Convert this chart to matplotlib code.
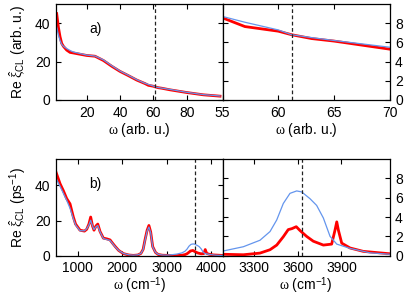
import matplotlib
matplotlib.use("Agg")
import matplotlib.pyplot as plt

plt.rcParams['font.family'] = ['Liberation Sans', 'DejaVu Sans']
plt.rcParams['font.size'] = 10
plt.rcParams['mathtext.fontset'] = 'custom'
plt.rcParams['mathtext.rm'] = 'Liberation Sans'
plt.rcParams['mathtext.it'] = 'Liberation Serif:italic'
plt.rcParams['mathtext.sf'] = 'Liberation Serif'  # used for upright greek letters
plt.rcParams['mathtext.bf'] = 'Liberation Sans:bold'

# panel a) -- arbitrary units
omega_a = [2, 3, 4, 5, 6, 8, 10, 12, 15, 20, 25, 30, 35, 40, 45, 50,
           55, 57, 60, 61.2, 63, 65, 70, 80, 90, 100]
red_a = [45, 38, 33, 29.5, 28, 26, 24.8, 24.5, 24, 23.2, 22.8, 20.6, 17.6, 14.9, 12.7, 10.4,
         8.55, 7.65, 7.17, 6.8, 6.4, 6.14, 5.3, 3.9, 2.7, 2.0]
blue_a = [38, 34, 31, 29, 28, 26.8, 25.8, 25, 24.4, 23.4, 22.9, 20.9, 17.9, 15.1, 12.9, 10.6,
          8.7, 8.1, 7.3, 6.8, 6.5, 6.2, 5.5, 4.0, 2.8, 2.1]
cut_a = 61.2

# panel b) -- cm^-1
omega_b_red = [510, 600, 675, 750, 825, 900, 950, 1050, 1150, 1200, 1250, 1290, 1330, 1365,
               1410, 1450, 1500, 1575, 1650, 1725, 1780, 1840, 1920, 2025, 2150, 2250, 2350,
               2420, 2470, 2512, 2560, 2600, 2640, 2685, 2750, 2810, 2900, 3000,
               3089, 3227, 3341, 3410, 3456, 3501, 3535, 3560, 3590, 3616, 3661, 3707, 3776,
               3833, 3856, 3868, 3879, 3902, 3959, 4050, 4233, 4260]
red_b = [47.5, 41, 37, 32.5, 29.5, 22, 18, 14.5, 14, 15, 18, 22, 17, 14.5,
         17, 18, 13.8, 10, 9.6, 9, 7.2, 5.3, 3, 1.2, 0.4, 0.2, 0.4,
         1.3, 3.6, 9, 14.5, 17.2, 13.5, 5.2, 1.8, 0.7, 0.3, 0.2,
         0.15, 0.1, 0.27, 0.62, 1.1, 1.96, 2.7, 2.8, 3.0, 2.6, 2.0, 1.5, 1.1,
         1.2, 2.65, 3.5, 2.65, 1.3, 0.8, 0.45, 0.2, 0.2]
omega_b_blue = [510, 600, 675, 750, 825, 900, 950, 1050, 1150, 1200, 1250, 1290, 1330, 1365,
                1410, 1450, 1500, 1575, 1650, 1725, 1780, 1840, 1920, 2025, 2150, 2250, 2350,
                2420, 2470, 2512, 2560, 2600, 2640, 2685, 2750, 2810, 2900, 3000,
                3089, 3227, 3341, 3410, 3456, 3501, 3547, 3593, 3627, 3684, 3730, 3776,
                3822, 3868, 3959, 4096, 4233, 4260]
blue_b = [44, 39.5, 35.5, 31.5, 27, 21, 17.5, 14.2, 14.2, 15.3, 17.5, 20.2, 17, 14.9,
          16.5, 17.2, 13.6, 9.8, 9.2, 8.7, 7, 5.1, 3, 1.3, 0.5, 0.3, 0.5,
          1.3, 3.5, 8.6, 14, 16.3, 13, 5, 1.8, 0.8, 0.4, 0.3,
          0.49, 0.93, 1.6, 2.5, 3.7, 5.4, 6.45, 6.7, 6.6, 5.9, 5.2, 3.9,
          2.0, 1.2, 0.76, 0.3, 0.15, 0.15]
cut_b = 3630

RED = '#ff0000'
BLUE = '#6495ed'

fig = plt.figure(figsize=(4.11, 2.97), dpi=100)
ax1 = fig.add_axes([0.1363, 0.6633, 0.4055, 0.3232])
ax2 = fig.add_axes([0.5418, 0.6633, 0.4059, 0.3232])
ax3 = fig.add_axes([0.1363, 0.139, 0.4055, 0.3256])
ax4 = fig.add_axes([0.5418, 0.139, 0.4059, 0.3256])


def style(ax, right=False):
    ax.tick_params(direction='in', top=True, right=True, length=3.5, width=0.8,
                   labelsize=10, pad=4)
    if right:
        ax.tick_params(labelleft=False, labelright=True)
    for s in ax.spines.values():
        s.set_linewidth(0.9)


for ax in (ax1, ax2):
    ax.plot(omega_a, red_a, color=RED, lw=2.0)
    ax.plot(omega_a, blue_a, color=BLUE, lw=0.9)
    ax.axvline(cut_a, color='#222222', lw=0.9, ls=(0, (3, 2)))
    ax.set_xlabel(r'$\mathsf{\omega}$ (arb. u.)', labelpad=1)

ax1.set_xlim(1.6, 101.6)
ax1.set_ylim(0, 50)
ax1.set_xticks([20, 40, 60, 80])
ax1.set_yticks([0, 20, 40])
ax1.set_ylabel(r'Re $\hat{\mathsf{\xi}}_{\rm CL}$ (arb. u.)', labelpad=5)
ax1.text(0.2, 0.70, 'a)', transform=ax1.transAxes, fontsize=10)
style(ax1)

ax2.set_xlim(55, 70)
ax2.set_ylim(0, 10)
ax2.set_xticks([55, 60, 65, 70])
ax2.set_yticks([0, 2, 4, 6, 8])
style(ax2, right=True)

for ax in (ax3, ax4):
    ax.plot(omega_b_red, red_b, color=RED, lw=2.0)
    ax.plot(omega_b_blue, blue_b, color=BLUE, lw=0.9)
    ax.axvline(cut_b, color='#222222', lw=0.9, ls=(0, (3, 2)))
    ax.set_xlabel(r'$\mathsf{\omega}$ (cm$^{-1}$)', labelpad=0)

ax3.set_xlim(510, 4260)
ax3.set_ylim(0, 55)
ax3.set_xticks([1000, 2000, 3000, 4000])
ax3.set_yticks([0, 20, 40])
ax3.set_ylabel(r'Re $\hat{\mathsf{\xi}}_{\rm CL}$ (ps$^{-1}$)', labelpad=5)
ax3.text(0.2, 0.70, 'b)', transform=ax3.transAxes, fontsize=10)
style(ax3)

ax4.set_xlim(3085, 4230)
ax4.set_ylim(0, 10)
ax4.set_xticks([3300, 3600, 3900])
ax4.set_yticks([0, 2, 4, 6, 8])
style(ax4, right=True)

fig.savefig('out.png', dpi=100)
